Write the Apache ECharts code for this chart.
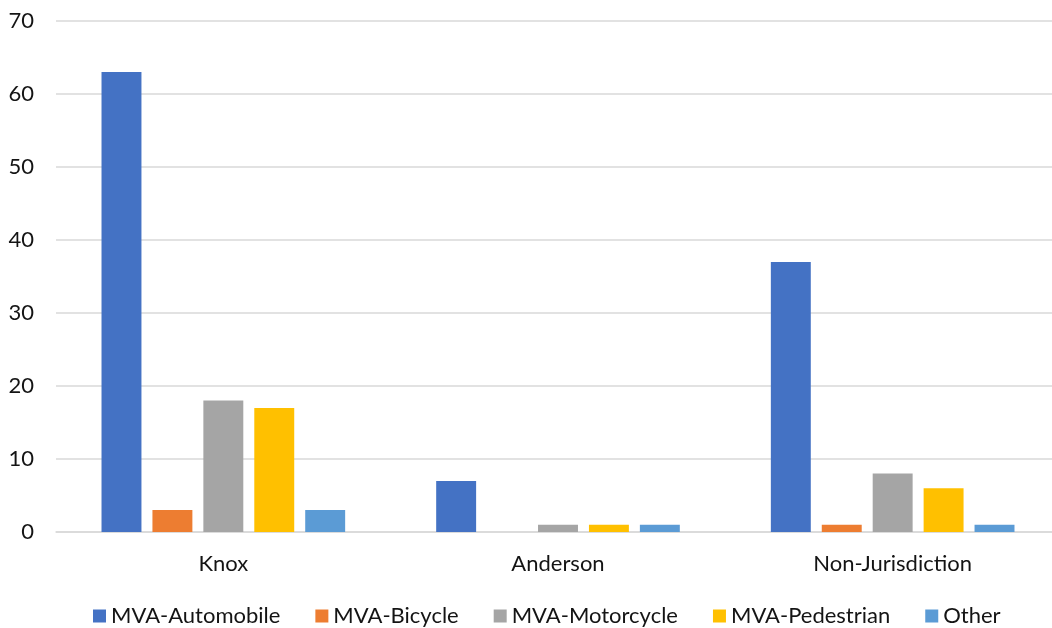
<!DOCTYPE html>
<html>
<head>
<meta charset="utf-8">
<script src="https://cdn.jsdelivr.net/npm/echarts@6/dist/echarts.min.js"></script>
<style>
  html, body { margin: 0; padding: 0; background: #ffffff; overflow: hidden; }
  /* the plot area runs a little past the right edge of the window */
  #chart { width: 1060px; height: 628px; }
</style>
</head>
<body>
<div id="chart"></div>
<script>
// Incident counts by jurisdiction and type
const categories = ['Knox', 'Anderson', 'Non-Jurisdiction'];
const seriesNames = ['MVA-Automobile', 'MVA-Bicycle', 'MVA-Motorcycle', 'MVA-Pedestrian', 'Other'];
const automobile = [63, 7, 37];
const bicycle = [3, 0, 1];
const motorcycle = [18, 1, 8];
const pedestrian = [17, 1, 6];
const other = [3, 1, 1];
const colors = ['#4472C4', '#ED7D31', '#A5A5A5', '#FFC000', '#5B9BD5'];

const values = [automobile, bicycle, motorcycle, pedestrian, other];
const font = 'Lato, "Noto Sans", sans-serif';
const textColor = '#141414';

const chart = echarts.init(document.getElementById('chart'));
chart.setOption({
  animation: false,
  color: colors,
  grid: { left: 56, right: 0, top: 21, bottom: 96, containLabel: false },
  legend: {
    top: 600,
    left: 88,
    icon: 'rect',
    itemWidth: 13,
    itemHeight: 13,
    itemGap: 35,
    textStyle: { fontFamily: font, fontSize: 22, color: textColor },
    data: seriesNames
  },
  xAxis: {
    type: 'category',
    data: categories,
    axisLine: { lineStyle: { color: '#d9d9d9', width: 1.5 } },
    axisTick: { show: false },
    axisLabel: { fontFamily: font, fontSize: 22, color: textColor, margin: 21 }
  },
  yAxis: {
    type: 'value',
    min: 0,
    max: 70,
    interval: 10,
    axisLine: { show: false },
    axisTick: { show: false },
    splitLine: { lineStyle: { color: '#d9d9d9', width: 1.5 } },
    axisLabel: { fontFamily: font, fontSize: 22, color: textColor, margin: 22 }
  },
  series: seriesNames.map((name, i) => ({
    name: name,
    type: 'bar',
    data: values[i],
    barGap: '27.5%',
    barCategoryGap: '27.2%',
    itemStyle: { color: colors[i] }
  }))
});
</script>
</body>
</html>
